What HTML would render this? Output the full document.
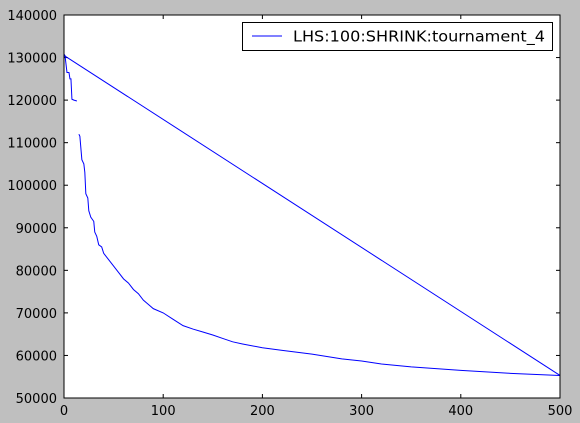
<!DOCTYPE html>
<html><head><meta charset="utf-8"><style>
html,body{margin:0;padding:0;background:#bfbfbf;}
svg{display:block;font-family:"DejaVu Sans","Liberation Sans",sans-serif;}
</style></head><body>
<svg id="chart" width="580" height="423">
<rect x="0" y="0" width="580" height="423" fill="#bfbfbf"/>
<rect x="64" y="15" width="496" height="383" fill="#fff"/>
<g id="ticks"></g>
<g id="series"></g>
<rect x="64" y="15" width="496" height="383" fill="none" stroke="#000" stroke-width="1"/>
<g>
<rect x="242.5" y="22.5" width="310" height="28" fill="#fff" stroke="#000"/>
<line x1="252" y1="36" x2="282" y2="36" stroke="#0000ff" stroke-width="1"/>
<text x="293" y="41.5" font-size="15" textLength="252" lengthAdjust="spacingAndGlyphs" fill="#000">LHS:100:SHRINK:tournament_4</text>
</g>
</svg>
<script>
const xTicks=[0,100,200,300,400,500];
const yTicks=[50000,60000,70000,80000,90000,100000,110000,120000,130000,140000];
const seg1X=[0,1,3,5,6,7,8,10,13];
const seg1Y=[130800,130500,126500,126500,125000,125000,120200,120000,119800];
const seg2X=[15,16,18,20,21,22,24,25,27,30,31,33,35,38,40,45,50,55,60,65,70,75,80,85,90,100,110,120,130,140,150,160,170,180,200,220,250,280,300,320,350,400,450,500];
const seg2Y=[112000,111500,106000,105000,103000,98000,97000,94000,92500,91500,89000,88000,86000,85500,84000,82500,81000,79500,78000,77000,75500,74500,73000,72000,71000,70000,68500,67000,66200,65500,64800,64000,63200,62700,61800,61200,60300,59200,58700,58000,57300,56500,55800,55300];
const closeX=[500,0];
const closeY=[55300,130500];
const X0=64,X1=560,Y0=398,Y1=15;
const sx=v=>X0+(v-0)/(500-0)*(X1-X0);
const sy=v=>Y0-(v-50000)/(140000-50000)*(Y0-Y1);
const NS="http://www.w3.org/2000/svg";
const tg=document.getElementById('ticks');
function mk(t,a,p){const e=document.createElementNS(NS,t);for(const k in a)e.setAttribute(k,a[k]);p.appendChild(e);return e;}
xTicks.forEach(v=>{
 const x=sx(v);
 const l1=mk('line',{x1:x,y1:Y0,x2:x,y2:Y0-4,stroke:'#000'},tg);
 
 
 const l2=mk('line',{x1:x,y1:Y1,x2:x,y2:Y1+4,stroke:'#000'},tg);
 
 
 const t=mk('text',{x:x,y:Y0+17,'font-size':13,'text-anchor':'middle',fill:'#000'},tg);
 t.textContent=v;
 
 
});
yTicks.forEach(v=>{
 const y=sy(v);
 const l1=mk('line',{x1:X0,y1:y,x2:X0+4,y2:y,stroke:'#000'},tg);
 
 
 const l2=mk('line',{x1:X1,y1:y,x2:X1-4,y2:y,stroke:'#000'},tg);
 
 
 const t=mk('text',{x:X0-7,y:y+5,'font-size':13,'text-anchor':'end',fill:'#000'},tg);
 t.textContent=v;
 
 
});
const sg=document.getElementById('series');
function line(xs,ys,name){
 const p=mk('polyline',{points:xs.map((x,i)=>sx(x)+','+sy(ys[i])).join(' '),fill:'none',stroke:'#0000ff','stroke-width':1},sg);
 
 
}
line(seg1X,seg1Y,'series-line-start');
line(seg2X,seg2Y,'series-line-main');
line(closeX,closeY,'series-line-closing');
</script>
</body></html>
